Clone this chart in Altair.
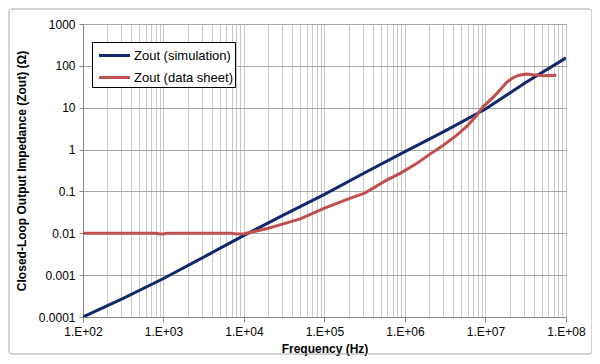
import altair as alt
import pandas as pd

# Simulation curve
sim_freq = [1e2, 3.16e2, 1e3, 3.16e3, 1e4, 3.16e4, 1e5, 3.16e5, 1e6, 3.16e6, 1e7, 3.16e7, 1e8]
sim_z = [1.0e-4, 2.8e-4, 8.3e-4, 2.7e-3, 8.9e-3, 2.8e-2, 8.5e-2, 0.28, 0.89, 2.8, 9.3, 40, 155]

# Data sheet curve
ds_freq = [1e2, 8e2, 9e2, 1e3, 1.1e3, 7e3, 8e3, 1e4, 1.26e4, 2e4, 3.16e4, 5e4, 1e5, 2.1e5,
           3.16e5, 5.9e5, 8.7e5, 1.41e6, 2.24e6, 3.0e6, 4.4e6, 5.9e6, 7.8e6, 9.3e6, 1.26e7,
           1.51e7, 1.82e7, 2.2e7, 2.6e7, 3.24e7, 3.9e7, 5.25e7, 7.6e7]
ds_z = [0.01, 0.01, 0.0096, 0.0096, 0.01, 0.01, 0.0096, 0.0098, 0.0107, 0.0132, 0.017, 0.022,
        0.04, 0.069, 0.091, 0.186, 0.27, 0.47, 0.88, 1.27, 2.21, 3.63, 6.6, 10.5, 18.2, 26.3,
        40, 52, 60, 64, 61, 58, 60]

series_names = ["Zout (simulation)", "Zout (data sheet)"]
series_colors = ["#12286b", "#c0504d"]

x_ticks = [m * 10 ** k for k in range(2, 8) for m in range(1, 10)] + [10 ** 8]
y_ticks = [0.0001, 0.001, 0.01, 0.1, 1, 10, 100, 1000]

df = pd.concat([
    pd.DataFrame({"f": sim_freq, "z": sim_z, "series": series_names[0], "order": range(len(sim_freq))}),
    pd.DataFrame({"f": ds_freq, "z": ds_z, "series": series_names[1], "order": range(len(ds_freq))}),
])

FONT = "Liberation Sans"
is_decade = "abs(log(datum.value)/LN10 - round(log(datum.value)/LN10)) < 1e-6"
exp = "round(log(datum.value)/LN10)"

lines = alt.Chart(df).mark_line(strokeWidth=3, clip=True).encode(
    x=alt.X("f:Q",
            scale=alt.Scale(type="log", domain=[1e2, 1e8], nice=False),
            axis=alt.Axis(values=x_ticks, grid=True, gridColor="#c8c8c8", gridWidth=1,
                          labelExpr=f"{is_decade} ? '1.E+' + ({exp} < 10 ? '0' : '') + {exp} : ''",
                          labelOverlap=False, labelFlush=False,
                          tickColor={"condition": {"test": is_decade, "value": "#868686"}, "value": "transparent"},
                          tickSize=5, labelPadding=4, domainColor="#868686",
                          labelFontSize=12, labelColor="#000000", labelFont=FONT,
                          title="Frequency (Hz)", titleFont=FONT, titleFontSize=12,
                          titleFontWeight="bold", titleColor="#000000", titlePadding=6)),
    y=alt.Y("z:Q",
            scale=alt.Scale(type="log", domain=[1e-4, 1e3], nice=False),
            axis=alt.Axis(values=y_ticks, format="~g", grid=True, gridColor="#a6a6a6",
                          gridWidth=1, tickColor="#868686", tickSize=4, labelPadding=4,
                          domainColor="#868686", labelFontSize=12, labelColor="#000000",
                          labelFont=FONT, title="Closed-Loop Output Impedance (Zout) (Ω)",
                          titleFont=FONT, titleFontSize=12, titleFontWeight="bold",
                          titleColor="#000000", titlePadding=10)),
    color=alt.Color("series:N",
                    scale=alt.Scale(domain=series_names, range=series_colors),
                    legend=alt.Legend(title=None, orient="none", legendX=9, legendY=18,
                                      strokeColor="#000000", fillColor="#ffffff", padding=2,
                                      symbolType="M-1.55,0H1.55", symbolSize=400,
                                      symbolOffset=9, symbolStrokeWidth=3,
                                      labelFont=FONT, labelFontSize=13,
                                      labelColor="#000000", rowPadding=3, labelOffset=8)),
    order="order:Q",
)

frame = alt.Chart(pd.DataFrame({"a": [0]})).mark_rect(
    fill=None, stroke="#a6a6a6", strokeWidth=1, cornerRadius=3
).encode(x=alt.value(-74), x2=alt.value(509), y=alt.value(-15), y2=alt.value(330))

chart = alt.layer(frame, lines).properties(
    width=483, height=293,
    autosize=alt.AutoSizeParams(type="none"),
    padding={"left": 75, "top": 16, "right": 26, "bottom": 39},
    background="#ffffff",
).configure_view(strokeWidth=0)

chart.save("out.html", embed_options={"renderer": "svg", "actions": False})
